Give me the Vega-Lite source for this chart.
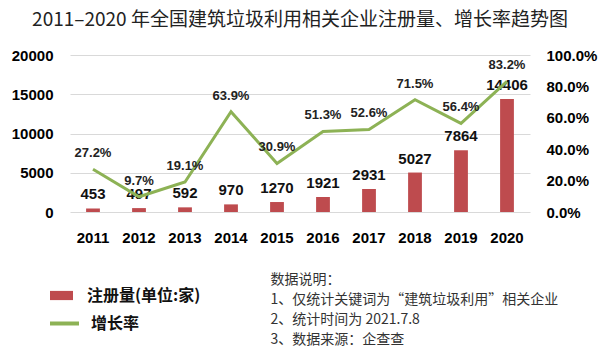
{
  "$schema": "https://vega.github.io/schema/vega-lite/v6.json",
  "width": 460,
  "height": 157,
  "autosize": {"type": "none"},
  "padding": {"left": 70, "top": 55, "right": 78, "bottom": 149},
  "background": "white",
  "title": {
    "text": "2011–2020 年全国建筑垃圾利用相关企业注册量、增长率趋势图",
    "font": "Noto Sans CJK SC",
    "fontSize": 19,
    "fontWeight": "normal",
    "color": "#222222",
    "anchor": "middle",
    "baseline": "bottom",
    "offset": -1
  },
  "data": {
    "values": [
      {"year": "2011", "count": 453, "rate": 0.272},
      {"year": "2012", "count": 497, "rate": 0.097},
      {"year": "2013", "count": 592, "rate": 0.191},
      {"year": "2014", "count": 970, "rate": 0.639},
      {"year": "2015", "count": 1270, "rate": 0.309},
      {"year": "2016", "count": 1921, "rate": 0.513},
      {"year": "2017", "count": 2931, "rate": 0.526},
      {"year": "2018", "count": 5027, "rate": 0.715},
      {"year": "2019", "count": 7864, "rate": 0.564},
      {"year": "2020", "count": 14406, "rate": 0.832}
    ]
  },
  "encoding": {
    "x": {
      "field": "year",
      "type": "ordinal",
      "scale": {"paddingInner": 0.7, "paddingOuter": 0.35},
      "axis": {
        "labelAngle": 0,
        "labelFont": "Liberation Sans",
        "labelFontSize": 15,
        "labelFontWeight": "bold",
        "labelColor": "#000000",
        "labelPadding": 18,
        "domain": false,
        "ticks": false,
        "title": ["数据说明：", "1、仅统计关键词为“建筑垃圾利用”相关企业", "2、统计时间为 2021.7.8", "3、数据来源：企查查"],
        "titleFont": "Noto Sans CJK SC",
        "titleFontSize": 14,
        "titleFontWeight": "normal",
        "titleColor": "#333333",
        "titleAlign": "left",
        "titleAnchor": "start",
        "titleBaseline": "top",
        "titleLineHeight": 20,
        "titleX": 200,
        "titleY": 60
      }
    }
  },
  "layer": [
    {
      "encoding": {
        "y": {
          "field": "count",
          "type": "quantitative",
          "scale": {"domain": [0, 20000], "nice": false},
          "axis": {
            "values": [0, 5000, 10000, 15000, 20000],
            "format": "d",
            "grid": true,
            "gridColor": "#d9d9d9",
            "domain": false,
            "ticks": false,
            "labelFont": "Liberation Sans",
            "labelFontSize": 15,
            "labelFontWeight": "bold",
            "labelColor": "#000000",
            "labelPadding": 17,
            "title": null
          }
        }
      },
      "layer": [
        {
          "mark": {"type": "bar"},
          "encoding": {
            "fill": {
              "datum": "注册量(单位:家)",
              "type": "nominal",
              "scale": {"range": ["#BE4B4E"]},
              "legend": {
                "orient": "none",
                "legendX": -20,
                "legendY": 229,
                "title": null,
                "padding": 0,
                "symbolType": "M-1,-0.4H1V0.4H-1Z",
                "symbolSize": 529,
                "symbolStrokeWidth": 0,
                "labelFont": "Noto Sans CJK SC",
                "labelFontSize": 16,
                "labelFontWeight": "bold",
                "labelColor": "#111111",
                "labelOffset": 14
              }
            }
          }
        },
        {
          "mark": {"type": "text", "dy": -14, "baseline": "middle", "font": "Liberation Sans", "fontSize": 15, "fontWeight": "bold", "color": "#111111"},
          "encoding": {"text": {"field": "count", "type": "quantitative", "format": "d"}}
        }
      ]
    },
    {
      "encoding": {
        "y": {
          "field": "rate",
          "type": "quantitative",
          "scale": {"domain": [0, 1], "nice": false},
          "axis": {
            "orient": "right",
            "format": ".1%",
            "values": [0, 0.2, 0.4, 0.6, 0.8, 1],
            "grid": false,
            "domain": false,
            "ticks": false,
            "labelFont": "Liberation Sans",
            "labelFontSize": 15,
            "labelFontWeight": "bold",
            "labelColor": "#000000",
            "labelPadding": 16,
            "title": null
          }
        }
      },
      "layer": [
        {
          "mark": {"type": "line", "strokeWidth": 3},
          "encoding": {
            "stroke": {
              "datum": "增长率",
              "type": "nominal",
              "scale": {"range": ["#8DB255"]},
              "legend": {
                "orient": "none",
                "legendX": -22,
                "legendY": 252,
                "title": null,
                "padding": 0,
                "symbolType": "stroke",
                "symbolSize": 841,
                "symbolStrokeWidth": 4,
                "labelFont": "Noto Sans CJK SC",
                "labelFontSize": 16,
                "labelFontWeight": "bold",
                "labelColor": "#111111",
                "labelOffset": 10
              }
            }
          }
        },
        {
          "mark": {"type": "text", "dy": -16, "baseline": "middle", "font": "Liberation Sans", "fontSize": 13, "fontWeight": "bold", "color": "#222222"},
          "encoding": {"text": {"field": "rate", "type": "quantitative", "format": ".1%"}}
        }
      ]
    }
  ],
  "resolve": {"scale": {"y": "independent", "fill": "independent", "stroke": "independent"}},
  "config": {"view": {"stroke": null}}
}
